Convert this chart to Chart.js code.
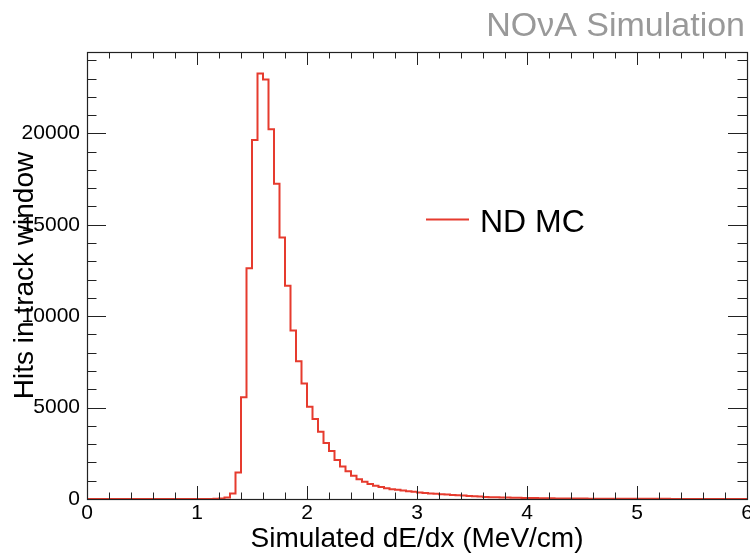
<!DOCTYPE html>
<html>
<head>
<meta charset="utf-8">
<script src="https://cdn.jsdelivr.net/npm/chart.js@4"></script>
<style>
  html, body { margin: 0; padding: 0; background: #fff; }
  canvas { display: block; }
</style>
</head>
<body>
<canvas id="c" width="750" height="554"></canvas>
<script>
// Histogram: 120 bins of 0.05 MeV/cm from 0 to 6
const binLow = 0;
const binWidth = 0.05;
const hitCounts = [
  0, 0, 0, 0, 0, 0, 0, 0, 0, 0,
  0, 0, 0, 0, 0, 0, 0, 0, 0, 0,
  0, 0, 5, 10, 25, 80, 300, 1450, 5570, 12620,
  19630, 23280, 22950, 20230, 17250, 14300, 11670, 9210, 7530, 6320,
  5050, 4370, 3680, 3060, 2620, 2130, 1780, 1520, 1270, 1080,
  940, 820, 730, 650, 590, 540, 500, 460, 420, 390,
  360, 330, 305, 285, 265, 245, 225, 205, 185, 165,
  150, 135, 110, 100, 92, 84, 76, 70, 64, 58,
  53, 48, 44, 40, 36, 33, 30, 27, 25, 23,
  21, 19, 17, 16, 15, 14, 13, 12, 11, 10,
  9, 9, 8, 8, 7, 7, 6, 6, 5, 5,
  5, 4, 4, 4, 3, 3, 3, 3, 2, 2
];
const xTicksMajor = [0, 1, 2, 3, 4, 5, 6];
const yTicksMajor = [0, 5000, 10000, 15000, 20000];
const xMinorStep = 0.2;
const yMinorStep = 1000;
const yMax = 24450;

const seriesLabel = "ND MC";
const xTitle = "Simulated dE/dx (MeV/cm)";
const yTitle = "Hits in track window";
const tagText = "NO\u03BDA Simulation";

const RED = "#e63b2e";
const FONT = '"Liberation Sans", Arial, Helvetica, sans-serif';

// step points at bin low edges, plus closing point at the last edge
const points = hitCounts.map((c, i) => ({ x: binLow + i * binWidth, y: c }));
points.push({ x: binLow + hitCounts.length * binWidth, y: hitCounts[hitCounts.length - 1] });

// frame + ROOT-style ticks on all four sides
const framePlugin = {
  id: "frame",
  afterDatasetsDraw(chart){
    const { ctx, chartArea: a, scales } = chart;
    const xs = scales.x, ys = scales.y;
    ctx.save();
    ctx.strokeStyle = "#222";
    ctx.lineWidth = 1;
    ctx.beginPath();
    // x ticks (bottom up, top down)
    for(let v = 0; v <= 6 + 1e-9; v += xMinorStep){
      const px = Math.round(xs.getPixelForValue(v)) + 0.5;
      const major = xTicksMajor.some(t => Math.abs(t - v) < 1e-6);
      const len = major ? 13 : 6.5;
      ctx.moveTo(px, a.bottom); ctx.lineTo(px, a.bottom - len);
      ctx.moveTo(px, a.top); ctx.lineTo(px, a.top + len);
    }
    // y ticks (left right-pointing, right left-pointing)
    for(let v = 0; v <= yMax; v += yMinorStep){
      const py = Math.round(ys.getPixelForValue(v)) + 0.5;
      const major = yTicksMajor.includes(v);
      const len = major ? 19 : 9.5;
      ctx.moveTo(a.left, py); ctx.lineTo(a.left + len, py);
      ctx.moveTo(a.right, py); ctx.lineTo(a.right - len, py);
    }
    ctx.stroke();
    ctx.lineWidth = 1.2;
    ctx.strokeRect(Math.round(a.left) + 0.5, Math.round(a.top) + 0.5,
      Math.round(a.right - a.left), Math.round(a.bottom - a.top));
    ctx.restore();
  }
};

// axis titles, legend, simulation tag
const textPlugin = {
  id: "texts",
  afterDraw(chart){
    const { ctx, chartArea: a } = chart;
    ctx.save();
    ctx.fillStyle = "#000";
    ctx.font = "28px " + FONT;
    ctx.textAlign = "center";
    ctx.textBaseline = "alphabetic";
    ctx.fillText(xTitle, (a.left + a.right) / 2, 547);

    ctx.translate(33, (a.top + a.bottom) / 2);
    ctx.rotate(-Math.PI / 2);
    ctx.fillText(yTitle, 0, 0);
    ctx.setTransform(1, 0, 0, 1, 0, 0);

    // legend
    ctx.strokeStyle = RED;
    ctx.lineWidth = 2;
    ctx.beginPath();
    ctx.moveTo(426, 219.5); ctx.lineTo(469, 219.5);
    ctx.stroke();
    ctx.font = "32px " + FONT;
    ctx.textAlign = "left";
    ctx.fillText(seriesLabel, 480, 232);

    // tag
    ctx.fillStyle = "#999";
    ctx.font = "34px " + FONT;
    ctx.textAlign = "right";
    ctx.fillText(tagText, 745, 36);
    ctx.restore();
  }
};

new Chart(document.getElementById("c"), {
  type: "line",
  data: {
    datasets: [{
      data: points,
      stepped: true,
      borderColor: RED,
      borderWidth: 2,
      pointRadius: 0,
      fill: false,
      tension: 0
    }]
  },
  options: {
    responsive: false,
    animation: false,
    events: [],
    layout: { padding: { top: 52, right: 3, left: 0, bottom: 0 } },
    plugins: { legend: { display: false }, tooltip: { enabled: false } },
    scales: {
      x: {
        type: "linear",
        min: 0, max: 6,
        grid: { display: false, drawTicks: false },
        border: { display: false },
        ticks: {
          maxRotation: 0, autoSkip: false, padding: 2,
          color: "#000", font: { family: FONT, size: 21 },
          callback: v => String(v)
        },
        afterBuildTicks(s){ s.ticks = xTicksMajor.map(v => ({ value: v })); },
        afterFit(s){ s.height = 55; s.paddingLeft = 0; s.paddingRight = 0; }
      },
      y: {
        type: "linear",
        min: 0, max: yMax,
        grid: { display: false, drawTicks: false },
        border: { display: false },
        ticks: {
          autoSkip: false, padding: 7,
          color: "#000", font: { family: FONT, size: 21 },
          callback: v => String(v)
        },
        afterBuildTicks(s){ s.ticks = yTicksMajor.map(v => ({ value: v })); },
        afterFit(s){ s.width = 87; s.paddingTop = 0; s.paddingBottom = 0; }
      }
    }
  },
  plugins: [framePlugin, textPlugin]
});
</script>
</body>
</html>
